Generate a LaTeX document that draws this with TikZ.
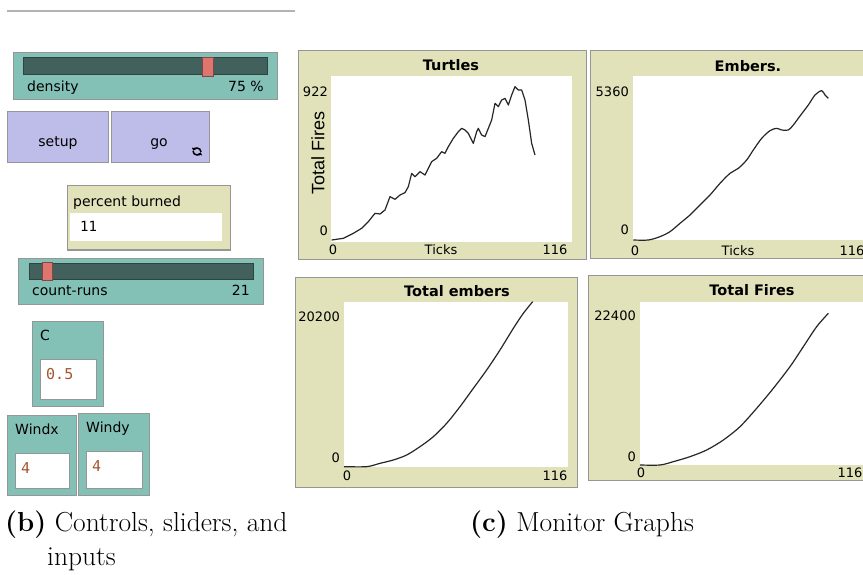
\documentclass[tikz,border=0pt]{standalone}
\usepackage{fontspec}
\setsansfont{DejaVu Sans}
\setmonofont{DejaVu Sans Mono}
\newfontfamily\axisfont{Liberation Sans}
\usetikzlibrary{arrows.meta}
\definecolor{sliderbg}{RGB}{131,193,183}
\definecolor{slidertrack}{RGB}{66,97,92}
\definecolor{knobred}{RGB}{222,118,112}
\definecolor{buttonbg}{RGB}{190,188,232}
\definecolor{monitorbg}{RGB}{226,226,186}
\definecolor{inputval}{RGB}{165,85,45}
\definecolor{rim}{RGB}{150,150,150}
\begin{document}
\begin{tikzpicture}
  [x=1pt,y=-1pt,
   every node/.style={inner sep=0pt,font=\sffamily\fontsize{14}{16}\selectfont},
   widget/.style={draw=rim,line width=1pt},
   slider/.style={widget,fill=sliderbg},
   track/.style={fill=slidertrack,draw=slidertrack!70!black,line width=.6pt},
   knob/.style={fill=knobred,draw=knobred!60!black,line width=.6pt},
   button/.style={widget,fill=buttonbg},
   monitor/.style={widget,fill=monitorbg},
   field/.style={fill=white,draw=rim,line width=.6pt},
   value/.style={font=\ttfamily\fontsize{15}{17}\selectfont,text=inputval},
   title/.style={font=\sffamily\bfseries\fontsize{14.5}{16}\selectfont},
   tick/.style={font=\sffamily\fontsize{13}{15}\selectfont},
   curve/.style={line width=1.2pt,black!85,line join=round},
   caption/.style={font=\rmfamily\fontsize{27.5}{32}\selectfont}]
  \useasboundingbox (0,0) rectangle (863,575);
  \clip (0,0) rectangle (863,575);
  \draw[black!30,line width=1.5pt] (7,11) -- (295,11);

  \draw[slider] (13,53) rectangle (277,100);
  \draw[track] (23,57) rectangle (267,74);
  \draw[knob] (202,57) rectangle (213,76);
  \node[anchor=base west] (density) at (27,92) {density};
  \node[anchor=base east] (densval) at (264,92) {75 \%};

  \draw[button] (7,112) rectangle (108,163);
  \node[anchor=base] (setup) at (58,147) {setup};
  \draw[button] (111,112) rectangle (209,163);
  \node[anchor=base] (go) at (159,147) {go};
  \draw[line width=1.5pt,-{Triangle[length=2.5pt,width=4.5pt]}] (193,151) arc[start angle=180,end angle=20,radius=4];
  \draw[line width=1.5pt,-{Triangle[length=2.5pt,width=4.5pt]}] (201,152) arc[start angle=0,end angle=-160,radius=4];

  \draw[monitor] (67,186) rectangle (230,250);
  \node[anchor=base west] (pburned) at (73,207) {percent burned};
  \fill[white] (70,213) rectangle (222,241);
  \node[anchor=base west,font=\ttfamily\fontsize{14}{16}\selectfont] (pbval) at (80,232) {11};

  \draw[slider] (18,258) rectangle (263,304);
  \draw[track] (29,263) rectangle (253,279);
  \draw[knob] (42,262) rectangle (52,280);
  \node[anchor=base west] (countruns) at (32,295) {count-runs};
  \node[anchor=base east] (crval) at (250,295) {21};

  \foreach \nm/\lbl/\xa/\ya/\xb/\yb/\val in {c/C/32/321/103/406/0.5,windx/Windx/7/415/76/495/4,windy/Windy/78/413/149/495/4}
  {
    \draw[slider] (\xa,\ya) rectangle (\xb,\yb);
    \node[anchor=base west] (\nm-lbl) at (\xa+8,\ya+19) {\lbl};
    \draw[field] (\xa+8,\ya+38) rectangle (\xb-7,\yb-7);
    \node[value,anchor=base west] (\nm-val) at (\xa+14,\ya+58) {\val};
  }

  \draw[monitor] (298,51) rectangle (586,259);
  \fill[white] (331,76) rectangle (572,242);
  \node[title] (turtles) at (451,65) {Turtles};
  \node[tick,anchor=east] (t-ymax) at (328,92) {922};
  \node[tick,anchor=east] (t-ymin) at (328,231) {0};
  \node[tick] (t-xmin) at (333,250) {0};
  \node[tick] (t-xlab) at (441,250) {Ticks};
  \node[tick] (t-xmax) at (555,250) {116};
  \node[rotate=90,font=\axisfont\fontsize{18}{20}\selectfont] (t-ylab) at (318,153) {Total Fires};
  \begin{scope}[shift={(290,40)},scale=1/3]
    \draw[curve] plot coordinates {(125,600) (160,595) (190,580) (215,565) (235,545) (255,520) (270,522) (285,510) (300,470) (315,478) (330,465) (345,458) (355,440) (365,400) (375,410) (390,395) (405,405) (415,385) (425,365) (440,355) (455,335) (465,340) (475,320) (490,295) (505,275) (515,265) (525,270) (535,280) (550,310) (560,275) (565,265) (575,285) (585,290) (595,265) (605,240) (615,190) (625,200) (635,180) (645,175) (655,195) (665,165) (675,140) (685,150) (695,150) (705,180) (715,240) (725,310) (735,345)};
  \end{scope}

  \draw[monitor] (590,51) rectangle (875,258);
  \fill[white] (633,76) rectangle (875,240);
  \node[title] (embers) at (748,66) {Embers.};
  \node[tick,anchor=east] (e-ymax) at (629,92) {5360};
  \node[tick,anchor=east] (e-ymin) at (629,230) {0};
  \node[tick] (e-xmin) at (635,251) {0};
  \node[tick] (e-xlab) at (738,251) {Ticks};
  \node[tick] (e-xmax) at (852,251) {116};
  \begin{scope}[shift={(580,40)},scale=1/3]
    \draw[curve] plot[smooth] coordinates {(160,600) (205,600) (240,590) (270,575) (300,550) (330,525) (360,495) (390,465) (420,430) (450,400) (475,385) (500,360) (520,330) (545,295) (570,272) (590,265) (605,270) (625,270) (640,255) (660,228) (685,195) (705,165) (725,152) (735,165) (745,175)};
  \end{scope}

  \draw[monitor] (295,277) rectangle (577,487);
  \fill[white] (344,302) rectangle (568,467);
  \node[title] (totembers) at (457,291) {Total embers};
  \node[tick,anchor=east] (te-ymax) at (340,317) {20200};
  \node[tick,anchor=east] (te-ymin) at (340,458) {0};
  \node[tick] (te-xmin) at (347,476) {0};
  \node[tick] (te-xmax) at (555,476) {116};
  \begin{scope}[shift={(290,270)},scale=1/3]
    \draw[curve] plot[smooth] coordinates {(162,590) (230,590) (270,580) (310,570) (350,555) (390,530) (430,500) (470,460) (510,410) (550,355) (590,300) (630,240) (670,175) (700,130) (728,95)};
  \end{scope}

  \draw[monitor] (588,275) rectangle (875,480);
  \fill[white] (640,302) rectangle (875,465);
  \node[title] (totfires) at (752,290) {Total Fires};
  \node[tick,anchor=east] (tf-ymax) at (636,316) {22400};
  \node[tick,anchor=east] (tf-ymin) at (636,457) {0};
  \node[tick] (tf-xmin) at (641,473) {0};
  \node[tick] (tf-xmax) at (850,473) {116};
  \begin{scope}[shift={(580,270)},scale=1/3]
    \draw[curve] plot[smooth] coordinates {(180,585) (240,585) (280,575) (330,560) (380,540) (430,510) (480,470) (530,415) (580,355) (630,290) (670,230) (710,170) (745,130)};
  \end{scope}

  \node[caption,anchor=base west] (capb) at (5,531) {\textbf{(b)} Controls, sliders, and};
  \node[caption,anchor=base west] (capb2) at (47,565) {inputs};
  \node[caption,anchor=base west] (capc) at (470,531) {\textbf{(c)} Monitor Graphs};
\end{tikzpicture}
\end{document}
